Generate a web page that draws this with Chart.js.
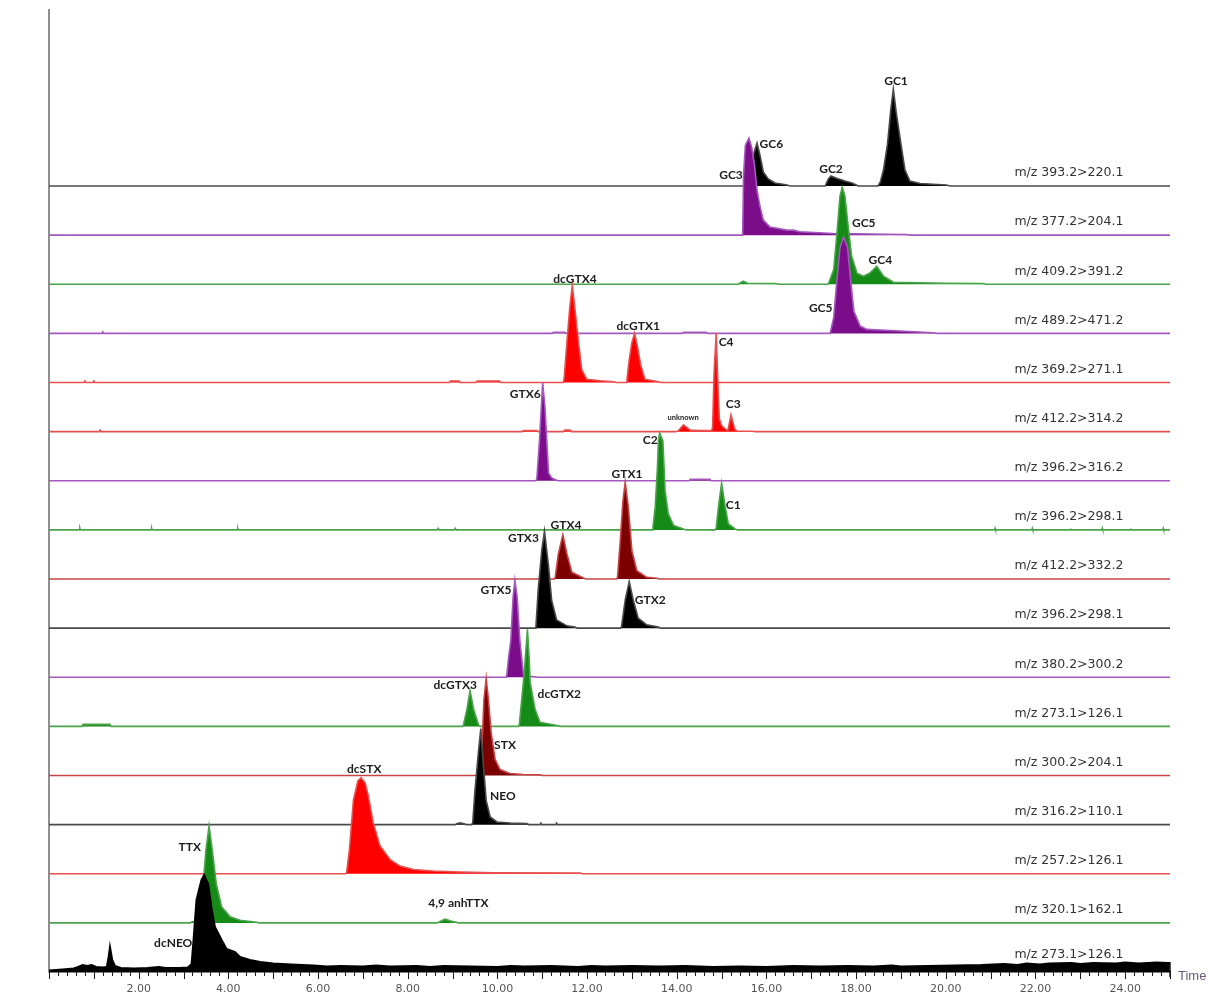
<!DOCTYPE html>
<html>
<head>
<meta charset="utf-8">
<title>PSP toxin MRM chromatograms</title>
<script src="https://cdn.jsdelivr.net/npm/chart.js@4.4.1/dist/chart.umd.min.js"></script>
<style>
  html, body { margin: 0; padding: 0; background: #ffffff; overflow: hidden; }
  #wrap { width: 1213px; height: 995px; }
</style>
</head>
<body>
<div id="wrap"><canvas id="chart" width="1213" height="995"></canvas></div>
<script>
// ---- MRM transitions, listed from the bottom trace to the top trace ----
const transitions = [
  'm/z 273.1>126.1', 'm/z 320.1>162.1', 'm/z 257.2>126.1', 'm/z 316.2>110.1',
  'm/z 300.2>204.1', 'm/z 273.1>126.1', 'm/z 380.2>300.2', 'm/z 396.2>298.1',
  'm/z 412.2>332.2', 'm/z 396.2>298.1', 'm/z 396.2>316.2', 'm/z 412.2>314.2',
  'm/z 369.2>271.1', 'm/z 489.2>471.2', 'm/z 409.2>391.2', 'm/z 377.2>204.1',
  'm/z 393.2>220.1'
];

// ---- Trace signals: [retention time (min), response above the trace baseline] ----
const dcNeoTrace = [
  [0.0,1.5],[0.3,2.5],[0.55,3.5],[0.65,5],[0.75,7],[0.85,6],[0.95,7],[1.05,5],[1.2,4.5],[1.29,5],
  [1.33,15],[1.36,25],[1.41,12],[1.47,6],[1.6,4],[1.9,3.5],[2.2,4],[2.45,5],[2.6,4],[2.9,4],
  [3.1,4.5],[3.18,8],[3.22,30],[3.29,72],[3.4,92],[3.46,97],[3.55,88],[3.63,62],[3.7,45],[3.85,32],
  [3.96,23],[4.15,20],[4.26,15],[4.48,12],[4.71,10],[5.0,8.5],[5.4,7.5],[5.9,6.5],[6.2,5.5],[6.5,6],
  [7.0,5.5],[7.3,6.5],[7.6,5.5],[8.2,6],[8.5,5],[8.8,6],[9.4,5.5],[10.0,5],[10.3,6],[10.6,5.5],
  [11.2,6],[11.8,5],[12.1,6],[12.4,5.5],[13.0,6],[13.6,5.5],[14.2,6],[14.8,5],[15.4,5.5],[16.0,5],
  [16.6,6],[17.2,5.5],[17.8,6],[18.4,5.5],[18.8,6.5],[19.0,5.5],[19.6,6],[20.2,6.5],[20.8,7],[21.3,8],
  [21.6,7],[21.8,8.5],[22.1,7.5],[22.3,8.5],[22.8,9],[23.0,8],[23.3,9],[23.8,8.5],[24.0,9.5],[24.3,8.5],
  [24.7,9.5],[24.95,9],[25.0,9]
];
const ttxTrace = [
  [3.16,0],[3.18,1],[3.37,2.7],[3.44,39],[3.5,73],[3.57,97],[3.64,73],[3.73,39],[3.85,16],[4.04,6],
  [4.26,2.7],[4.63,0.7],[4.68,0],
  [8.66,0],[8.7,1],[8.83,3.7],[8.98,1.5],[9.09,0.5],[9.12,0]
];
const dcStxTrace = [
  [6.62,0],[6.64,2],[6.7,24],[6.79,74],[6.89,93],[6.96,96],[7.05,91],[7.12,78],[7.23,51],[7.38,28],
  [7.61,14],[7.83,7.7],[8.13,4.3],[8.57,2.7],[9.17,1.7],[9.91,1],[11.84,0.7],[11.9,0]
];
const neoTrace = [
  [9.07,0],[9.09,1],[9.17,1.7],[9.28,0.5],[9.3,0],
  [9.43,0],[9.45,2],[9.5,34],[9.58,74],[9.63,96],[9.69,58],[9.75,24],[9.84,7.7],[9.99,2.7],[10.28,1.7],
  [10.66,1],[10.7,0],
  [10.95,0],[10.97,1.5],[10.99,0],[11.3,0],[11.32,1.5],[11.34,0]
];
const stxTrace = [
  [9.61,0],[9.63,2],[9.67,43],[9.7,76],[9.75,97],[9.8,76],[9.86,43],[9.95,16],[10.06,6],[10.28,2],
  [10.58,1],[10.95,0.7],[11.0,0]
];
const dcGtx23Trace = [
  [0.74,0],[0.76,2],[1.36,2],[1.38,0],
  [9.22,0],[9.24,1],[9.32,17],[9.39,35.6],[9.47,17],[9.58,1.3],[9.62,0],
  [10.47,0],[10.49,2],[10.58,44],[10.62,67],[10.67,97],[10.71,67],[10.73,44],[10.84,17],[10.95,4],
  [11.36,0.7],[11.4,0]
];
const gtx5Trace = [
  [10.19,0],[10.21,2],[10.25,20],[10.3,37],[10.35,80],[10.39,97],[10.44,80],[10.5,37],[10.54,20],
  [10.58,3],[10.73,1],[10.91,0]
];
const gtx23Trace = [
  [10.84,0],[10.86,2],[10.91,38],[10.99,78],[11.05,97],[11.14,62],[11.21,28],[11.32,8.3],[11.55,2.3],
  [11.73,1],[11.78,0],
  [12.75,0],[12.77,2],[12.85,28],[12.94,46.7],[13.03,28],[13.14,10],[13.33,3.3],[13.59,1],[13.63,0]
];
const gtx14Trace = [
  [11.27,0],[11.29,2],[11.36,25],[11.46,44.3],[11.55,25],[11.66,6.7],[11.92,1],[11.97,0],
  [12.66,0],[12.68,2],[12.74,38],[12.8,78],[12.85,96.7],[12.92,72],[13.0,28],[13.11,8.3],[13.33,1.7],
  [13.56,0.7],[13.6,0]
];
const c12Trace = [
  [0.68,0],[0.69,1.5],[0.7,0],[2.28,0],[2.29,1.5],[2.3,0],[4.2,0],[4.21,1.5],[4.22,0],
  [8.66,0],[8.68,1.5],[8.7,0],[9.04,0],[9.06,1.5],[9.08,0],
  [13.45,0],[13.47,3],[13.52,23],[13.57,63],[13.59,89],[13.62,97],[13.69,89],[13.74,39],[13.81,16],
  [13.93,4.3],[14.15,1],[14.2,0],
  [14.86,0],[14.88,2],[14.93,23],[15.0,46.6],[15.08,23],[15.15,6],[15.3,1],[15.35,0],
  [21.09,0],[21.1,1.5],[21.11,0],[21.92,0],[21.93,1.5],[21.94,0],[22.77,0],[22.78,1.5],[22.79,0],
  [23.48,0],[23.49,1.5],[23.5,0],[24.11,0],[24.12,1.5],[24.13,0],[24.84,0],[24.85,1.5],[24.86,0]
];
const gtx6Trace = [
  [10.86,0],[10.88,2],[10.94,41],[10.98,74],[11.01,97.7],[11.06,74],[11.1,41],[11.14,7.7],[11.21,2.7],
  [11.32,0.5],[11.36,0],
  [14.28,0],[14.3,1.5],[14.74,1.5],[14.76,0]
];
const c34Trace = [
  [1.12,0],[1.14,1.5],[1.16,0],
  [10.55,0],[10.58,1],[10.88,1],[10.91,0],
  [11.47,0],[11.5,1.5],[11.62,1.5],[11.65,0],
  [13.98,0],[14.04,1],[14.15,6.7],[14.3,1.5],[14.5,1],[14.78,1],[14.8,5],[14.83,56],[14.88,98.7],
  [14.91,56],[14.95,12.7],[15.0,6],[15.08,2.7],[15.14,1],[15.21,16.7],[15.29,2.7],[15.34,0.7],
  [15.7,0.3],[15.75,0]
];
const dcGtx14Trace = [
  [0.78,0],[0.8,1.5],[0.82,0],[0.98,0],[1.0,1.5],[1.02,0],
  [8.93,0],[8.95,1.5],[9.15,1.5],[9.17,0],[9.52,0],[9.55,1.5],[10.05,1.5],[10.08,0],
  [11.47,0],[11.49,5],[11.55,40],[11.61,73],[11.67,97.3],[11.73,73],[11.81,40],[11.88,13],[11.99,3.3],
  [12.29,1.7],[12.59,0.7],[12.65,0],
  [12.87,0],[12.89,3],[12.94,23],[13.0,40],[13.06,49.3],[13.12,36.7],[13.2,16.7],[13.29,3.3],
  [13.59,0.7],[13.65,0]
];
const gc5PurpleTrace = [
  [1.18,0],[1.2,1.5],[1.22,0],
  [11.22,0],[11.25,1.2],[11.5,1.2],[11.55,0],
  [14.12,0],[14.15,1.2],[14.65,1.2],[14.7,0],
  [17.42,0],[17.5,15.7],[17.57,52],[17.64,85.7],[17.72,96.3],[17.81,85.7],[17.88,52],[17.95,22],
  [18.09,7.3],[18.24,4],[18.98,2.3],[19.72,0.7],[19.8,0]
];
const gc45Trace = [
  [15.37,0],[15.48,3],[15.58,1],[16.2,0.8],[16.3,0],
  [17.38,0],[17.5,14.7],[17.58,54.7],[17.64,88],[17.69,97],[17.75,88],[17.83,54.7],[17.9,28],
  [18.02,11],[18.16,8],[18.3,11],[18.46,18],[18.61,8],[18.83,2],[20.0,1],[20.83,0.7],[20.9,0]
];
const gc3Trace = [
  [15.47,0],[15.49,60],[15.53,90],[15.61,97],[15.67,88],[15.73,71],[15.79,45],[15.86,28],[15.93,15],
  [16.08,8],[16.46,5],[16.6,5],[16.75,3.3],[17.49,1.7],[19.13,0.7],[19.2,0]
];
const gc126Trace = [
  [15.58,0],[15.61,20],[15.7,30],[15.79,43],[15.86,30],[15.93,14],[16.04,7],[16.19,3],[16.46,1],[16.53,0],
  [17.31,0],[17.38,7],[17.44,10],[17.55,8],[17.75,5],[17.91,3],[18.05,0],
  [18.49,0],[18.54,4],[18.61,16],[18.7,42],[18.77,75],[18.83,97],[18.89,75],[19.0,42],[19.09,16],
  [19.2,5],[19.43,2.5],[20.01,1],[20.1,0]
];

// ---- Peak names and where each name sits: [name, trace, time, height above baseline] ----
const peakLabels = [
  ['GC1',16,18.89,105],['GC6',16,16.11,42],['GC2',16,17.44,17],['GC3',15,15.21,60],
  ['GC5',14,18.17,61.5],['GC4',14,18.54,24.3],['GC5',13,17.21,25],
  ['dcGTX4',12,11.73,103.5],['dcGTX1',12,13.14,56.8],
  ['C4',11,15.1,90],['C3',11,15.26,27.6],
  ['GTX6',10,10.62,86.8],['C2',9,13.41,90],['C1',9,15.26,24.9],
  ['GTX1',8,12.89,105],['GTX4',8,11.53,54],
  ['GTX3',7,10.58,90.4],['GTX2',7,13.41,28.1],['GTX5',6,9.97,87.2],
  ['dcGTX3',5,9.06,41.4],['dcGTX2',5,11.38,32.4],['STX',4,10.17,30.5],['NEO',3,10.12,28.9],
  ['dcSTX',2,7.03,104.7],['TTX',1,3.14,75.9],['4,9 anhTTX',1,9.13,19.6],['dcNEO',0,2.77,29]
];
const smallLabels = [['unknown',11,14.14,14.3]];

// ---- Styling ----
const traceSeries = [
  dcNeoTrace, ttxTrace, dcStxTrace, neoTrace, stxTrace, dcGtx23Trace, gtx5Trace, gtx23Trace,
  gtx14Trace, c12Trace, gtx6Trace, c34Trace, dcGtx14Trace, gc5PurpleTrace, gc45Trace, gc3Trace, gc126Trace
];
const PALETTE = {
  black:   { fill: '#000000', line: '#4a4a4a' },
  purple:  { fill: '#7b0c8a', line: '#a458bd' },
  green:   { fill: '#168a16', line: '#4aa44a' },
  red:     { fill: '#ff0000', line: '#e65050' },
  darkred: { fill: '#7c0000', line: '#c84444' }
};
const traceColors = [
  'black','green','red','black','darkred','green','purple','black',
  'darkred','green','purple','red','red','purple','green','purple','black'
];

const X_MIN = 0, X_MAX = 25;
const STEP = 49.125;          // vertical spacing between stacked traces
const Y_MAX = 962;

const datasets = traceSeries.map((series, k) => {
  const base = k * STEP;
  const pts = [];
  if (series[0][0] > X_MIN) pts.push({ x: X_MIN, y: base });
  series.forEach(([t, h]) => pts.push({ x: t, y: base + h }));
  if (series[series.length - 1][0] < X_MAX) pts.push({ x: X_MAX, y: base });
  const col = PALETTE[traceColors[k]];
  return {
    label: transitions[k],
    data: pts,
    borderColor: k === 0 ? '#000000' : col.line,
    backgroundColor: col.fill,
    borderWidth: k === 0 ? 2 : 1.6,
    pointRadius: 0,
    tension: 0,
    fill: { value: base }
  };
});

// Minor/major tick marks under the time axis, "Time" caption, trace and peak labels
const annotate = {
  id: 'annotate',
  afterDraw(chart) {
    const { ctx, scales: { x, y }, chartArea } = chart;
    ctx.save();
    // tick marks
    ctx.strokeStyle = '#1a1a1a';
    ctx.lineWidth = 1;
    x.ticks.forEach(tk => {
      const v = tk.value;
      const px = Math.round(x.getPixelForValue(v)) + 0.5;
      const major = Math.abs(v - Math.round(v)) < 1e-6;
      ctx.beginPath();
      ctx.moveTo(px, chartArea.bottom);
      ctx.lineTo(px, chartArea.bottom + (major ? 7 : 4));
      ctx.stroke();
    });
    // end of the time axis
    ctx.lineWidth = 1.5;
    ctx.beginPath();
    ctx.moveTo(chartArea.right, y.getPixelForValue(10));
    ctx.lineTo(chartArea.right, chartArea.bottom + 5);
    ctx.stroke();
    // axis caption
    ctx.fillStyle = '#6a5a78';
    ctx.font = '13px "Liberation Sans", Arial, sans-serif';
    ctx.textAlign = 'left';
    ctx.textBaseline = 'middle';
    ctx.fillText('Time', chartArea.right + 8, chartArea.bottom + 4);
    // transition labels (the bottom one sits a little higher, above the noisy baseline)
    ctx.fillStyle = '#333333';
    ctx.font = '12.5px "DejaVu Sans", sans-serif';
    transitions.forEach((txt, k) => {
      const lift = k === 0 ? 17 : 13;
      ctx.fillText(txt, x.getPixelForValue(21.53), y.getPixelForValue(k * STEP + lift));
    });
    // peak labels
    ctx.textAlign = 'center';
    ctx.fillStyle = '#1c1c1c';
    ctx.font = 'bold 12px Lato, "Open Sans", sans-serif';
    peakLabels.forEach(([name, k, t, h]) => {
      ctx.fillText(name, x.getPixelForValue(t), y.getPixelForValue(k * STEP + h));
    });
    ctx.font = 'bold 7.5px Lato, "Open Sans", sans-serif';
    smallLabels.forEach(([name, k, t, h]) => {
      ctx.fillText(name, x.getPixelForValue(t), y.getPixelForValue(k * STEP + h));
    });
    ctx.restore();
  }
};

new Chart(document.getElementById('chart'), {
  type: 'line',
  data: { datasets },
  options: {
    responsive: false,
    devicePixelRatio: 1,
    animation: false,
    events: [],
    layout: { padding: { top: 10, right: 43, left: 0, bottom: 0 } },
    plugins: { legend: { display: false }, tooltip: { enabled: false } },
    scales: {
      x: {
        type: 'linear',
        min: X_MIN,
        max: X_MAX,
        afterFit: s => { s.height = 23; },
        border: { display: true, color: '#000000', width: 1.5 },
        grid: { display: false, drawTicks: true, tickLength: 8 },
        ticks: {
          stepSize: 0.2,
          autoSkip: false,
          maxRotation: 0,
          padding: 3,
          color: '#555555',
          font: { family: '"DejaVu Sans", sans-serif', size: 11 },
          callback: v => {
            const r = Math.round(v);
            return (Math.abs(v - r) < 1e-6 && r > 0 && r % 2 === 0 && r < 25) ? r.toFixed(2) : '';
          }
        }
      },
      y: {
        type: 'linear',
        min: 0,
        max: Y_MAX,
        afterFit: s => { s.width = 49; },
        border: { display: true, color: '#8f8f8f', width: 2 },
        grid: { display: false },
        ticks: { display: false }
      }
    }
  },
  plugins: [annotate]
});
</script>
</body>
</html>
